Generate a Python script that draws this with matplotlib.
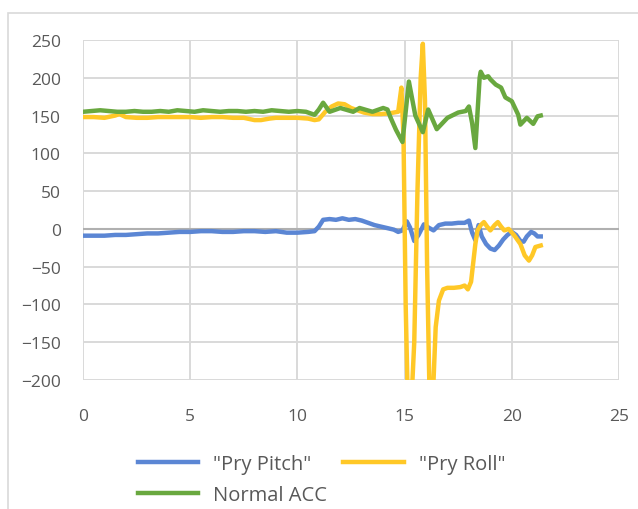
import numpy as np
import matplotlib.pyplot as plt
from matplotlib.patches import Rectangle

plt.rcParams['font.family'] = ['Open Sans', 'DejaVu Sans']

# "Pry Pitch"
t_pitch = [0, 0.5, 1, 1.5, 2, 2.5, 3, 3.5, 4, 4.5, 5, 5.5, 6, 6.5, 7, 7.5, 8, 8.5, 9, 9.5,
           10, 10.5, 10.8, 11.0, 11.2, 11.5, 11.8, 12.1, 12.4, 12.7, 13.0, 13.3, 13.6, 13.9,
           14.2, 14.5, 14.7, 14.9, 15.1, 15.25, 15.45, 15.65, 15.9, 16.1, 16.35, 16.6, 16.9,
           17.2, 17.5, 17.8, 18.0, 18.15, 18.3, 18.45, 18.6, 18.8, 19.0, 19.2, 19.4, 19.6,
           19.8, 20.0, 20.2, 20.4, 20.55, 20.7, 20.9, 21.05, 21.2, 21.35]
pitch = [-9, -9, -9, -8, -8, -7, -6, -6, -5, -4, -4, -3, -3, -4, -4, -3, -3, -4, -3, -5,
         -5, -4, -3, 3, 12, 13, 12, 14, 12, 13, 11, 8, 5, 3,
         1, -1, -4, -2, 10, 2, -16, -8, 6, 2, -2, 5, 7,
         7, 8, 8, 11, -5, -15, 5, -10, -20, -26, -28, -22, -14,
         -8, -4, -8, -16, -17, -10, -4, -6, -10, -10]

# "Pry Roll"
t_roll = [0, 0.5, 1, 1.5, 1.7, 2, 2.5, 3, 3.5, 4, 4.5, 5, 5.5, 6, 6.5, 7, 7.5, 8, 8.3,
          8.7, 9, 9.5, 10, 10.5, 10.8, 11.0, 11.3, 11.6, 11.9, 12.2, 12.5, 12.8, 13.1,
          13.5, 13.9, 14.3, 14.7, 14.85, 14.95, 15.05, 15.15, 15.3, 15.45, 15.6, 15.75,
          15.85, 15.95, 16.05, 16.15, 16.25, 16.35, 16.45, 16.6, 16.8, 17.0, 17.3, 17.6,
          17.8, 17.95, 18.1, 18.3, 18.4, 18.55, 18.7, 18.85, 19.0, 19.2, 19.35, 19.5,
          19.65, 19.85, 20.1, 20.4, 20.6, 20.8, 20.95, 21.1, 21.35]
roll = [148, 148, 147, 150, 152, 148, 147, 147, 148, 148, 148, 148, 147, 148, 148, 147,
        147, 144, 144, 146, 147, 147, 147, 146, 144, 145, 155, 162, 166, 165, 160, 157, 154,
        152, 152, 153, 155, 187, 120, -100, -230, -240, -150, 50, 200,
        245, 170, -50, -200, -230, -200, -130, -95, -80, -78, -78, -77,
        -75, -80, -70, -20, -2, 5, 9, 3, -2, 5, 9, 3,
        -2, 0, -8, -20, -35, -42, -35, -24, -22]

# Normal ACC
t_acc = [0, 0.4, 0.8, 1.2, 1.6, 2.0, 2.4, 2.8, 3.2, 3.6, 4.0, 4.4, 4.8, 5.2, 5.6, 6.0,
         6.4, 6.8, 7.2, 7.6, 8.0, 8.4, 8.8, 9.2, 9.6, 10.0, 10.4, 10.8, 11.0, 11.2, 11.5,
         12.0, 12.6, 12.9, 13.5, 14.0, 14.2, 14.35, 14.6, 14.9, 15.2, 15.5, 15.85, 16.1,
         16.5, 17.0, 17.5, 17.85, 18.0, 18.15, 18.3, 18.5, 18.55, 18.7, 18.9, 19.0, 19.25,
         19.5, 19.7, 20.0, 20.3, 20.4, 20.7, 21.0, 21.2, 21.35]
acc = [155, 156, 157, 156, 155, 155, 156, 155, 155, 156, 155, 157, 156, 155, 157, 156,
       155, 156, 156, 155, 156, 155, 157, 156, 155, 156, 155, 151, 158, 167, 155,
       160, 155, 160, 155, 160, 158, 147, 131, 115, 195, 150, 128, 158,
       132, 147, 154, 156, 162, 140, 107, 200, 208, 200, 202, 198, 191,
       187, 174, 169, 151, 138, 147, 139, 149, 150]

x_ticks = [0, 5, 10, 15, 20, 25]
y_ticks = [-200, -150, -100, -50, 0, 50, 100, 150, 200, 250]

fig = plt.figure(figsize=(6.38, 5.1), dpi=100)
fig.patches.append(Rectangle((8 / 638, -0.05), 1.1, 1 - 14 / 510 + 0.05, transform=fig.transFigure,
                             fill=False, edgecolor='#D9D9D9', linewidth=1.2))
ax = fig.add_axes([83 / 638, 1 - 381 / 510, (619 - 83) / 638, (381 - 41) / 510])

ax.plot(t_pitch, pitch, color='#5B86D4', lw=3.2, label='"Pry Pitch"', zorder=3)
ax.plot(t_roll, roll, color='#FFC827', lw=3.2, label='"Pry Roll"', zorder=3)
ax.plot(t_acc, acc, color='#69A83F', lw=3.2, label='Normal ACC', zorder=3)
ax.axhline(0, color='#B0B0B0', lw=1.5, zorder=2)

ax.set_xlim(0, 25)
ax.set_ylim(-200, 250)
ax.set_xticks(x_ticks)
ax.set_yticks(y_ticks)
ax.grid(True, color='#D9D9D9', lw=1.4, zorder=1)
ax.set_axisbelow(True)
for s in ax.spines.values():
    s.set_visible(False)
ax.tick_params(length=0, labelsize=12.5, labelcolor='#595959')
ax.tick_params(axis='x', pad=20)
ax.tick_params(axis='y', pad=16)

h, l = ax.get_legend_handles_labels()
order = [0, 2, 1]
fig.legend([h[i] for i in order], [l[i] for i in order], ncol=2, loc='upper center',
           bbox_to_anchor=(0.504, 1 - 437 / 510), frameon=False, fontsize=14.5,
           labelcolor='#595959', handlelength=3.0, handletextpad=0.75,
           columnspacing=0.8, labelspacing=0.55)

fig.savefig('out.png', dpi=100)
